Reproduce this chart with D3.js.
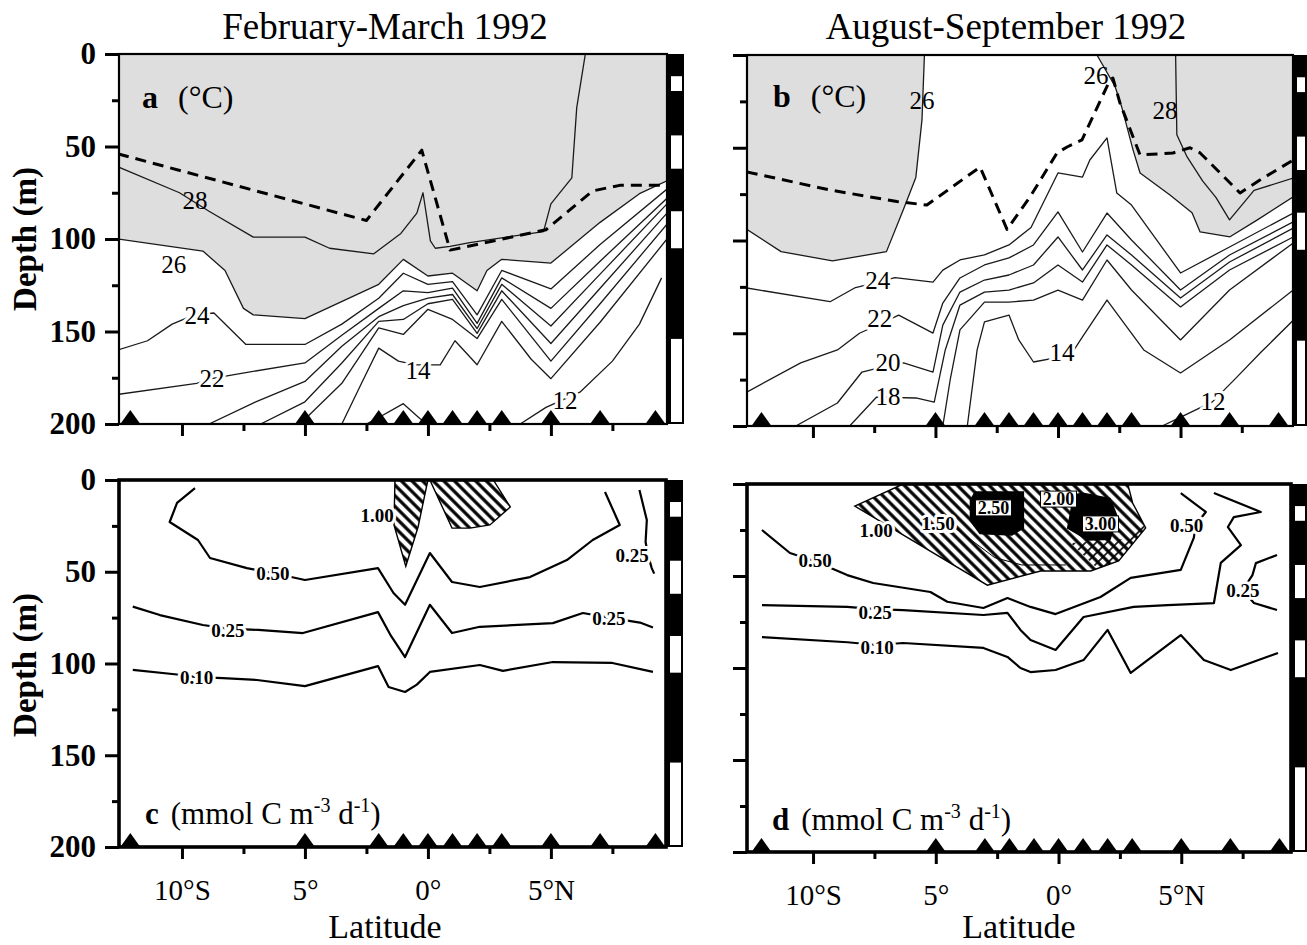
<!DOCTYPE html>
<html><head><meta charset="utf-8">
<script src="https://cdn.jsdelivr.net/npm/d3@7"></script>
<style>
body{margin:0;background:#fff}
svg{display:block}
text{font-family:"Liberation Serif","Times New Roman",serif;fill:#000}
</style></head>
<body><svg id="chart" width="1307" height="945"></svg>
<script>
// ---------- axes / shared data ----------
const latTicksMajor=[-10,-5,0,5];
const latTickLabels=["10°S","5°","0°","5°N"];
const latTicksMinor=[-7.5,-2.5,2.5,7.5];
const depthTicksMajor=[0,50,100,150,200];
const depthTicksMinor=[25,75,125,175];
const stationsFebMar=[-12.1,-5,-2,-1,0,1,2,3,5,7,9.25];
const stationsAugSep=[-12.1,-5,-3,-2,-1,0,1,2,3,5,7,9];
const lightBands=[[12,20],[44,62],[85,105],[154,200]];
const titles=["February-March 1992","August-September 1992"];

// ---------- panel a: temperature Feb-Mar (lat, depth) ----------
const tempA_mld=[[-12.6,54],[-2.5,90],[-0.25,52],[0.9,106],[4.8,95],[6.7,74],[7.8,71],[9.72,71]];
const tempA_28=[[-12.6,61],[-10.1,75],[-8.9,85],[-7.1,99],[-5,99],[-4,105],[-2.2,108],[-1.1,97],[-0.45,86],[-0.2,75],[0.1,101],[0.3,105],[0.9,104],[1.7,102],[4.7,96],[5.0,81],[5.85,67],[6.05,29],[6.4,0]];
const tempA_26=[[-12.6,100],[-9.15,106.5],[-8.25,117],[-7.5,137.5],[-7.1,141],[-5,143],[-2,124.5],[-1,111],[0,120],[1,118.5],[2,128],[2.4,117],[3,111],[5,113],[7,91],[8.6,75.5],[9.72,68.5]];
const tempA_24=[[-12.6,160],[-11.4,155],[-10.4,146],[-9.5,141],[-8.7,140],[-7.4,157],[-5,157],[-3.5,146],[-2,132],[-1,118.5],[0,124.5],[1,123],[2,141],[3,117],[5,127],[7,103],[9.72,73]];
const tempA_22=[[-12.6,184],[-9.4,178],[-8.8,175.5],[-7.76,173],[-5,167],[-3.5,152],[-2,137.5],[-1,128],[0,129],[1,126.6],[2,145.6],[3,121],[5,137.5],[7,112],[9.72,78]];
const tempA_20=[[-8.9,200],[-7,188],[-5,177],[-3.5,158],[-2,142],[-1,136],[0,132],[1,130],[2,148.4],[3,124.5],[5,147],[7,119],[9.72,81]];
const tempA_18=[[-6.8,200],[-5,188],[-3.5,167],[-2,144.5],[-1,143.5],[0,135],[1,132.6],[2,151],[3,128],[5,156.5],[7,126.6],[9.72,86]];
const tempA_16=[[-5.2,200],[-3.5,178],[-2,148],[-1,151.6],[0,138],[1,143.5],[2,153.8],[3,132.6],[5,166],[7,135],[9.72,92]];
const tempA_14=[[-3.5,200],[-2.7,178],[-2,159],[-1.2,166],[-0.5,168],[0.5,168],[1.1,155],[2,168],[3,144.5],[4.2,165],[5,175.5],[7,145],[9.72,100]];
const tempA_12=[[3.75,200],[4.8,191],[6.2,182.6],[7.5,166],[8.6,146],[9.5,121]];
const tempA_12dome=[[-2.5,200],[-2.07,197],[-1,189],[-0.33,197],[0,200]];
const tempA_labels=[["28",-9.47,79.3,0],["26",-10.33,113.6,0],["24",-9.39,141,1],["22",-8.78,175.5,1],["14",-0.4,171,1],["12",5.57,187,1]];

// ---------- panel b: temperature Aug-Sep ----------
const tempB_mld=[[-12.7,63],[-9.3,72.8],[-6.57,79],[-5.35,80.9],[-3.18,60.4],[-2.08,94],[-1.14,76.5],[-0.04,52.8],[0.37,49.6],[0.98,45.8],[2.12,13.5],[2.24,12.4],[2.53,25.9],[3.35,53.9],[4.69,52.8],[5.39,50],[5.8,52.8],[7.43,74.4],[8.24,67.4],[9.6,56.6]];
const tempB_26w=[[-5.45,0],[-5.55,35],[-5.8,66],[-6.3,83],[-7.0,106],[-9.2,111],[-11.3,106],[-12.7,94]];
const tempB_26e=[[1.59,0],[2.33,17],[2.6,28],[3.06,51],[3.35,63.6],[4.57,75.5],[5.47,85],[5.8,95.4],[7.02,98],[8.12,89],[9.6,76.5]];
const tempB_28=[[4.8,0],[4.85,43],[5.25,54.5],[5.9,67.9],[6.45,76.9],[7.0,88.9],[8.0,73],[9.6,66.3]];
const tempB_24=[[-12.7,125.6],[-9.3,133],[-8.3,125.6],[-7.35,122.4],[-6.65,120],[-5.1,122.4],[-4.7,116],[-4,110.5],[-3,107.8],[-2,102.4],[-1.1,93],[0,63.6],[1,65.8],[1.3,56.6],[2,44.7],[2.4,74.4],[3,80.9],[5,117.5],[7,103.5],[9.6,85.2]];
const tempB_22=[[-12.7,181.7],[-10.5,166],[-9,159],[-8.1,150],[-7.27,145],[-6.5,140.2],[-5.1,149.9],[-4.7,133.7],[-4,120.2],[-3,113.2],[-2,109.4],[-1,102.4],[0,84.6],[1,106.2],[2,85.2],[3,99.7],[5,126.7],[7,107.8],[9.6,90]];
const tempB_20=[[-10.7,200],[-9,187.6],[-8,170.9],[-6.94,167.5],[-6.3,166],[-5.1,170.9],[-4.7,145.6],[-4,127.8],[-3,121.3],[-2,118.6],[-1,113.2],[0,98.1],[1,115.9],[2,97],[3,107.8],[5,131],[7,111.6],[9.6,93.3]];
const tempB_18=[[-8.5,200],[-7.4,184.4],[-5.8,184.9],[-5.05,187.1],[-4.6,159],[-4,134.8],[-3,127.8],[-2,126.7],[-1,122.9],[0,113.2],[1,122.4],[2,102.4],[3,113.2],[5,135.8],[7,115.9],[9.6,98.1]];
const tempB_16=[[-4.7,200],[-4.4,175.2],[-4,148.2],[-3,133.2],[-2,133.2],[-1,132.1],[0,126.7],[1,132.1],[2,110.5],[3,126.7],[5,153.6],[7,126.7],[9.6,101.3]];
const tempB_14=[[-3.7,200],[-3.3,159],[-3,143.9],[-2,140.2],[-1.6,153.6],[-1,165.5],[0,163],[0.6,160],[1,152],[2,132.1],[3.5,159],[5,171.4],[7,153.6],[9.6,126.7]];
const tempB_12=[[4.25,200],[5.2,194],[6.3,187],[7.2,175],[8.3,160],[9.6,143]];
const tempB_labels=[["26",-5.55,24.3,0],["24",-7.35,121.3,1],["22",-7.27,141.8,1],["20",-6.94,165.5,1],["18",-6.94,183.8,1],["14",0.16,160,1],["12",6.33,186.5,1],["26",1.55,10.8,0],["28",4.37,29.6,0]];

// ---------- panel c: production Feb-Mar ----------
const prodC_050=[[-9.47,4.4],[-10.2,12.5],[-10.5,22.9],[-9.35,32.7],[-8.86,42.5],[-7.36,48],[-6.3,50.7],[-5,54.5],[-2.03,48],[-1.4,61.6],[-0.93,68],[0.08,39.8],[0.98,55.6],[2.11,58.3],[4.15,52.9],[5.65,43.6],[6.7,32.7],[7.8,24.5],[7.2,6.5]];
const prodC_025=[[-12,69],[-10.9,73.6],[-9.15,79],[-8.13,81],[-6.9,81.7],[-5.08,83.4],[-2.03,72],[-1.5,85],[-0.93,96.5],[0.08,68],[0.98,83.4],[2.11,80],[5.08,78],[6.3,72.5],[7.36,75],[8.62,77.7],[9.15,80.4]];
const prodC_025b=[[8.6,5.5],[8.9,21.8],[8.85,33.8],[8.95,41],[9.1,48],[9.2,51]];
const prodC_010=[[-12,103.5],[-10.2,106],[-9.4,107.4],[-8.33,108],[-6.95,109],[-5,112.3],[-2.03,101.4],[-1.6,112.8],[-0.93,115.5],[-0.45,111.5],[0.08,104.6],[2.11,100.8],[3.05,104],[5.08,99.2],[7.5,99.7],[9.15,104.6]];
const prodC_100a=[[-1.34,0],[0,0],[-0.4,25.6],[-0.9,47],[-1.38,24.5]];
const prodC_100b=[[0.08,0],[2.66,0],[3.35,14.7],[2.52,24.5],[1.71,26.2],[0.98,26.2]];
const prodC_labels=[["0.50",-6.3,50.7],["0.25",-8.13,81.7],["0.10",-9.4,107.4],["1.00",-2.07,19],["0.25",7.36,75.2],["0.25",8.3,40.9]];

// ---------- panel d: production Aug-Sep ----------
const prodD_050=[[-12.08,25],[-10.94,37.5],[-9.92,42],[-8.61,49.5],[-7.55,53.8],[-5.22,58.7],[-4.53,64],[-3.06,67.4],[-2.08,62],[-1.14,66.8],[-0.12,70.7],[1.71,61.4],[2.94,51],[4.98,46.7],[5.51,29.3],[5.6,22],[6,15.2],[4.98,4.9]];
const prodD_025=[[-12.08,65.8],[-8.61,66.8],[-7.47,68],[-6.33,68.5],[-3.06,71.2],[-2.08,70],[-1.55,79.3],[-1.14,84.8],[-0.12,90.2],[1.02,72.3],[3.06,66.8],[4.45,65.8],[6.33,64.7],[6.61,42.9],[7.43,33.2],[6.9,23.4],[7.14,18],[8.24,15.2],[6.33,4.9]];
const prodD_025b=[[8.9,38.6],[8.04,43],[7.9,49.5],[7.5,57.6],[7.96,64.7],[8.9,68.5]];
const prodD_010=[[-12.08,83.2],[-8.6,86],[-7.4,87.5],[-6.33,86.4],[-3.06,89.1],[-2.08,94],[-1.55,100],[-1.14,102.2],[-0.12,101.1],[1.02,95.7],[2,79.3],[2.94,102.7],[4.98,82.1],[5.92,95.7],[7.02,101.1],[8.94,91.8]];
const prodD_100=[[-8.3,12],[-6.33,0],[2.82,0],[3.02,10.3],[3.55,23.9],[2.45,41.8],[1.31,47.3],[-0.73,47.3],[-2.9,55]];
const prodD_200=[[0.5,32],[2.6,30],[3.4,22],[3.55,23.9],[2.45,41.8],[1.6,46]];
const prodD_150=[[-4.2,24],[-3.4,32],[-2.6,40],[-1.5,44],[0.3,44]];
const prodD_250=[[-3.59,9],[-3.4,4.3],[-1.43,4.3],[-1.43,24],[-1.9,27.7],[-3.2,27],[-3.59,20]];
const prodD_300=[[0.6,6],[1.0,5],[2.1,8],[2.4,18],[2.1,30],[1.2,30.4],[0.37,24],[0.5,15]];
const prodD_labels=[["0.50",-9.92,41.3],["0.25",-7.47,70],["0.10",-7.39,88.6],["1.00",-7.43,25],["1.50",-4.9,21.2],["0.50",5.22,22.3],["0.25",7.51,57.6]];
const prodD_boxLabels=[["2.50",-2.65,13],["2.00",0,8.2],["3.00",1.71,21.7]];

// ---------- drawing ----------
const svg=d3.select("#chart");
const defs=svg.append("defs");
function hatch(id,rot,w,sw){
  defs.append("pattern").attr("id",id).attr("patternUnits","userSpaceOnUse")
    .attr("width",w).attr("height",w).attr("patternTransform",`rotate(${rot})`)
    .append("line").attr("x1",w/2).attr("x2",w/2).attr("y1",0).attr("y2",w)
    .attr("stroke","#000").attr("stroke-width",sw);
}
hatch("hatchA",-45,7.5,3.2);
hatch("hatchB",45,7.5,1.6);

const layout={
  a:{x0:119,x1:667,y0:54,y1:424,lat:[-12.56,9.72],fw:2.2,barW:17,xlab:false,ylab:true},
  b:{x0:747,x1:1293,y0:55,y1:426,lat:[-12.69,9.59],fw:2.2,barW:14,xlab:false,ylab:false},
  c:{x0:119,x1:666,y0:480,y1:847,lat:[-12.56,9.68],fw:3.6,barW:17,xlab:true,ylab:true},
  d:{x0:747,x1:1291,y0:484,y1:852,lat:[-12.69,9.47],fw:3.6,barW:16,xlab:true,ylab:false}
};

function setup(key){
  const c=layout[key];
  const x=d3.scaleLinear().domain(c.lat).range([c.x0,c.x1]);
  const y=d3.scaleLinear().domain([0,200]).range([c.y0,c.y1]);
  defs.append("clipPath").attr("id","clip-"+key).append("rect")
    .attr("x",c.x0).attr("y",c.y0).attr("width",c.x1-c.x0).attr("height",c.y1-c.y0);
  const g=svg.append("g");
  const inner=g.append("g").attr("clip-path",`url(#clip-${key})`);
  const line=d3.line().x(d=>x(d[0])).y(d=>y(d[1]));
  return {c,x,y,g,inner,line};
}

function finish(P,stations){
  const {c,x,y,g}=P;
  g.append("rect").attr("x",c.x1).attr("y",c.y0).attr("width",c.barW).attr("height",c.y1-c.y0).attr("fill","#000");
  g.selectAll(".band").data(lightBands).join("rect")
    .attr("x",c.x1+4).attr("width",c.barW-6)
    .attr("y",d=>y(d[0])).attr("height",d=>y(d[1])-y(d[0])-(d[1]===200?2:0)).attr("fill","#fff");
  g.append("rect").attr("x",c.x0).attr("y",c.y0).attr("width",c.x1-c.x0).attr("height",c.y1-c.y0)
    .attr("fill","none").attr("stroke","#000").attr("stroke-width",c.fw);
  g.selectAll(".st").data(stations).join("path")
    .attr("d",d=>`M${x(d)-10},${c.y1}L${x(d)},${c.y1-14}L${x(d)+10},${c.y1}Z`).attr("fill","#000");
  const yMaj=d3.axisLeft(y).tickValues(depthTicksMajor).tickSize(14).tickPadding(9)
    .tickFormat(c.ylab?d3.format("d"):()=> "");
  const ya=g.append("g").attr("transform",`translate(${c.x0},0)`).call(yMaj);
  const yMin=d3.axisLeft(y).tickValues(depthTicksMinor).tickSize(7).tickFormat(()=>"");
  const yb=g.append("g").attr("transform",`translate(${c.x0},0)`).call(yMin);
  const xMaj=d3.axisBottom(x).tickValues(latTicksMajor).tickSize(12).tickPadding(20)
    .tickFormat((d,i)=>c.xlab?latTickLabels[i]:"");
  const xa=g.append("g").attr("transform",`translate(0,${c.y1})`).call(xMaj);
  const xMin=d3.axisBottom(x).tickValues(latTicksMinor).tickSize(7).tickFormat(()=>"");
  const xb=g.append("g").attr("transform",`translate(0,${c.y1})`).call(xMin);
  [ya,yb,xa,xb].forEach(a=>{a.select(".domain").remove();a.selectAll("line").attr("stroke","#000").attr("stroke-width",3);});
  ya.selectAll("text").attr("font-size",31).attr("font-weight","bold").attr("font-family","Liberation Serif");
  xa.selectAll("text").attr("font-size",29).attr("font-family","Liberation Serif");
}

function contour(P,data,opt={}){
  P.inner.append("path").attr("d",P.line(data)).attr("fill","none")
    .attr("stroke",opt.color||"#1a1a1a").attr("stroke-width",opt.w||1.3)
    .attr("stroke-dasharray",opt.dash||null).attr("stroke-linejoin","round");
}
function labels(P,list,size,bold){
  P.g.selectAll(null).data(list).join("text")
    .attr("x",d=>P.x(d[1])).attr("y",d=>P.y(d[2])).attr("dy","0.35em")
    .attr("text-anchor","middle").attr("font-size",size).attr("font-weight",bold?"bold":"normal")
    .attr("stroke",d=>(d[3]===0?"none":"#fff")).attr("stroke-width",6)
    .attr("paint-order","stroke").attr("stroke-linejoin","round")
    .text(d=>d[0]);
}
function poly(P,pts,fill,stroke){
  P.inner.append("path").attr("d",P.line(pts)+"Z").attr("fill",fill)
    .attr("stroke",stroke||"none").attr("stroke-width",1.4);
}

const GREY="#dedede";
// ---- panel a ----
const A=setup("a");
{
  const [l0,l1]=layout.a.lat;
  poly(A,[[l0,0],[l1,0]].concat(tempA_26.slice().reverse()),GREY);
  [tempA_28,tempA_26,tempA_24,tempA_22,tempA_20,tempA_18,tempA_16,tempA_14,tempA_12,tempA_12dome].forEach(d=>contour(A,d));
  contour(A,tempA_mld,{w:3,dash:"11,7",color:"#000"});
  labels(A,tempA_labels,25,false);
  finish(A,stationsFebMar);
}
// ---- panel b ----
const B=setup("b");
{
  const [l0,l1]=layout.b.lat;
  poly(B,[[l0,0]].concat(tempB_26w),GREY);
  poly(B,tempB_26e.concat([[l1,0]]),GREY);
  [tempB_26w,tempB_26e,tempB_28,tempB_24,tempB_22,tempB_20,tempB_18,tempB_16,tempB_14,tempB_12].forEach(d=>contour(B,d));
  contour(B,tempB_mld,{w:3,dash:"11,7",color:"#000"});
  labels(B,tempB_labels,25,false);
  finish(B,stationsAugSep);
}
// ---- panel c ----
const C=setup("c");
{
  poly(C,prodC_100a,"url(#hatchA)","#000");
  poly(C,prodC_100b,"url(#hatchA)","#000");
  [prodC_050,prodC_025,prodC_025b,prodC_010].forEach(d=>contour(C,d,{w:2.2,color:"#000"}));
  labels(C,prodC_labels,19,true);
  finish(C,stationsFebMar);
}
// ---- panel d ----
const D=setup("d");
{
  poly(D,prodD_100,"url(#hatchA)","#000");
  poly(D,prodD_200,"url(#hatchB)","none");
  contour(D,prodD_150,{w:1,color:"#000"});
  poly(D,prodD_250,"#000","#000");
  poly(D,prodD_300,"#000","#000");
  [prodD_050,prodD_025,prodD_025b,prodD_010].forEach(d=>contour(D,d,{w:2.2,color:"#000"}));
  labels(D,prodD_labels,19,true);
  const bl=D.g.selectAll(null).data(prodD_boxLabels).join("g")
    .attr("transform",d=>`translate(${D.x(d[1])},${D.y(d[2])})`);
  bl.append("rect").attr("x",-18).attr("y",-8).attr("width",36).attr("height",16)
    .attr("fill","#fff").attr("stroke","#000").attr("stroke-width",1);
  bl.append("text").attr("text-anchor","middle").attr("dy","0.35em").attr("font-size",18)
    .attr("font-weight","bold").text(d=>d[0]);
  finish(D,stationsAugSep);
}

// ---------- titles & annotations ----------
svg.append("text").attr("x",385).attr("y",39).attr("text-anchor","middle").attr("font-size",37).text(titles[0]);
svg.append("text").attr("x",1006).attr("y",39).attr("text-anchor","middle").attr("font-size",37).text(titles[1]);
[[239],[665]].forEach(([cy])=>{
  svg.append("text").attr("transform",`translate(36,${cy}) rotate(-90)`).attr("text-anchor","middle")
    .attr("font-size",33).attr("font-weight","bold").text("Depth (m)");
});
[[385],[1019]].forEach(([cx])=>{
  svg.append("text").attr("x",cx).attr("y",938).attr("text-anchor","middle").attr("font-size",34).text("Latitude");
});
function tempTag(letter,x,yb){
  const t=svg.append("text").attr("x",x).attr("y",yb).attr("font-size",32);
  t.append("tspan").attr("font-weight","bold").text(letter);
  t.append("tspan").attr("dx",20).text("(°C)");
}
tempTag("a",142,108);
tempTag("b",773,107);
function prodTag(letter,x,yb){
  const t=svg.append("text").attr("x",x).attr("y",yb).attr("font-size",31);
  t.append("tspan").attr("font-weight","bold").text(letter);
  t.append("tspan").attr("dx",12).text("(mmol C m");
  t.append("tspan").attr("dy",-12).attr("font-size",20).text("-3");
  t.append("tspan").attr("dy",12).text(" d");
  t.append("tspan").attr("dy",-12).attr("font-size",20).text("-1");
  t.append("tspan").attr("dy",12).text(")");
}
prodTag("c",145,824);
prodTag("d",772,830);
</script></body></html>
